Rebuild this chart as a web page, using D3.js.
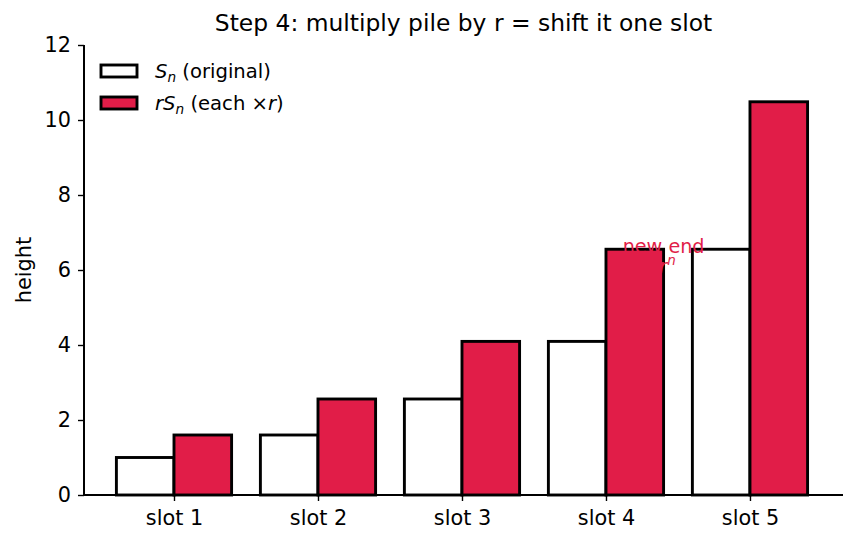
<!DOCTYPE html>
<html><head><meta charset="utf-8">
<script src="https://cdn.jsdelivr.net/npm/d3@7"></script>
<style>body{margin:0;background:#fff}svg{font-family:"DejaVu Sans",sans-serif}</style>
</head><body><svg id="c" width="856" height="544"></svg>
<script>
const slots = ["slot 1","slot 2","slot 3","slot 4","slot 5"];
const original = [1, 1.6, 2.56, 4.096, 6.5536];
const scaled = [1.6, 2.56, 4.096, 6.5536, 10.48576];
const yTicks = [0,2,4,6,8,10,12];
const title = "Step 4: multiply pile by r = shift it one slot";
const RED = "#e11d48";

const svg = d3.select("#c");
const L=84, R=843, T=45, B=495;
const x = d3.scaleLinear().domain([-0.625, 4.646]).range([L, R]);
const y = d3.scaleLinear().domain([0, 12]).range([B, T]);
const bw = 0.4;

svg.selectAll("rect.o").data(original).join("rect").attr("class","o")
  .attr("x",(d,i)=>x(i-bw)).attr("width",(d,i)=>x(i)-x(i-bw))
  .attr("y",d=>y(d)).attr("height",d=>y(0)-y(d))
  .attr("fill","#fff").attr("stroke","#000").attr("stroke-width",2.9);
svg.selectAll("rect.s").data(scaled).join("rect").attr("class","s")
  .attr("x",(d,i)=>x(i)).attr("width",(d,i)=>x(i+bw)-x(i))
  .attr("y",d=>y(d)).attr("height",d=>y(0)-y(d))
  .attr("fill",RED).attr("stroke","#000").attr("stroke-width",2.9);

// annotation (drawn on top; red on red hides part of it)
const ax = x(3.4);
const an = svg.append("text").attr("x", ax).attr("y", 253).attr("text-anchor","middle")
  .attr("fill", RED).attr("font-size", 19.2);
an.append("tspan").attr("x", ax).text("new end");
an.append("tspan").attr("x", ax+4).attr("dy", 20).attr("font-style","italic").text("r");
an.append("tspan").attr("font-style","italic").attr("font-size", 13.5).attr("dy", -8).text("n");

// axes
const ya = svg.append("g").attr("transform",`translate(${L},0)`)
  .call(d3.axisLeft(y).tickValues(yTicks).tickSize(6).tickPadding(7));
ya.select(".domain").attr("d",`M0,${T}V${B}`).attr("stroke-width",2);
const xa = svg.append("g").attr("transform",`translate(0,${B})`)
  .call(d3.axisBottom(x).tickValues(d3.range(slots.length)).tickFormat(i=>slots[i]).tickSize(6).tickPadding(9));
xa.select(".domain").attr("d",`M${L},0H${R}`).attr("stroke-width",2);
svg.selectAll(".tick line").attr("stroke-width",1.4);
svg.selectAll(".tick text").attr("font-size",20.8).attr("font-family","DejaVu Sans").attr("fill","#000");

svg.append("text").attr("transform",`translate(31,${(T+B)/2}) rotate(-90)`).attr("text-anchor","middle")
  .attr("font-size",20.8).text("height");
svg.append("text").attr("x",(L+R)/2).attr("y",31).attr("text-anchor","middle").attr("font-size",23.4).text(title);

// legend
const lg = svg.append("g");
[[ "#fff", 71, "orig"],[RED,103,"scaled"]].forEach(([f,cy,k])=>{
  lg.append("rect").attr("x",101).attr("y",cy-6).attr("width",36).attr("height",12).attr("fill",f).attr("stroke","#000").attr("stroke-width",2.9);
  const t = lg.append("text").attr("x",155).attr("y",cy+7).attr("font-size",19.6);
  if(k==="orig"){
    t.append("tspan").attr("font-style","italic").text("S");
    t.append("tspan").attr("font-style","italic").attr("font-size",13.7).attr("dy",4).text("n");
    t.append("tspan").attr("dy",-4).text(" (original)");
  } else {
    t.append("tspan").attr("font-style","italic").text("rS");
    t.append("tspan").attr("font-style","italic").attr("font-size",13.7).attr("dy",4).text("n");
    t.append("tspan").attr("dy",-4).text(" (each ×");
    t.append("tspan").attr("font-style","italic").text("r");
    t.append("tspan").text(")");
  }
});
</script></body></html>
